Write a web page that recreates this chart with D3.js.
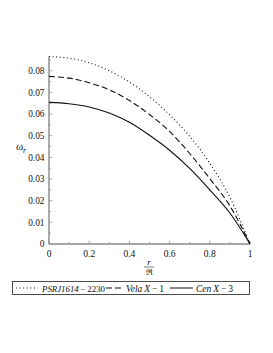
<!DOCTYPE html>
<html>
<head>
<meta charset="utf-8">
<script src="https://cdn.jsdelivr.net/npm/d3@7"></script>
<style>
  body { margin: 0; background: #fff; }
</style>
</head>
<body>
<svg id="chart" width="273" height="353"></svg>
<script>
// radial positions r/R
const radius = [0, 0.1, 0.2, 0.3, 0.4, 0.5, 0.6, 0.7, 0.8, 0.9, 1.0];
// omega_r for each star
const psrValues  = [0.0866, 0.0858, 0.0837, 0.0800, 0.0748, 0.0680, 0.0597, 0.0497, 0.0373, 0.0215, 0];
const velaValues = [0.0774, 0.0766, 0.0745, 0.0712, 0.0663, 0.0598, 0.0520, 0.0418, 0.0302, 0.0176, 0];
const cenValues  = [0.0654, 0.0648, 0.0633, 0.0605, 0.0562, 0.0502, 0.0433, 0.0349, 0.0250, 0.0143, 0];
const xTicks = [0, 0.2, 0.4, 0.6, 0.8, 1];
const yTicks = [0, 0.01, 0.02, 0.03, 0.04, 0.05, 0.06, 0.07, 0.08];

const FONT = '"Liberation Serif", serif';
const svg = d3.select('svg#chart').style('font-family', FONT);

const x = d3.scaleLinear().domain([0, 1]).range([49, 250]);
const y = d3.scaleLinear().domain([0, 0.0866]).range([244, 56.5]);

// minor ticks first
const g = svg.append('g');
g.selectAll('line.ymin')
  .data(d3.range(0, 0.086, 0.005))
  .enter()
  .append('line')
  .attr('x1', x(0)).attr('x2', (d, i) => x(0) + (i % 2 ? 2 : 3.5))
  .attr('y1', d => y(d)).attr('y2', d => y(d))
  .attr('stroke', '#999').attr('stroke-width', 0.8);
g.selectAll('line.xmin')
  .data(d3.range(0, 1.01, 0.1))
  .enter()
  .append('line')
  .attr('x1', d => x(d)).attr('x2', d => x(d))
  .attr('y1', y(0)).attr('y2', (d, i) => y(0) - (i % 2 ? 2 : 3.5))
  .attr('stroke', '#999').attr('stroke-width', 0.8);

// axes lines
svg.append('line')
  .attr('x1', x(0)).attr('x2', x(0)).attr('y1', y(0)).attr('y2', y(0.0866))
  .attr('stroke', '#888').attr('stroke-width', 1.4);
svg.append('line')
  .attr('x1', x(0)).attr('x2', x(1)).attr('y1', y(0)).attr('y2', y(0))
  .attr('stroke', '#888').attr('stroke-width', 1.4);

// tick labels
svg.selectAll('text.ytick')
  .data(yTicks)
  .enter()
  .append('text')
  .attr('x', 44.5)
  .attr('y', d => y(d) + 3.2)
  .attr('text-anchor', 'end')
  .style('font-size', '9.3px')
  .attr('fill', '#111')
  .text(d => d === 0 ? '0' : d.toFixed(2));

svg.selectAll('text.xtick')
  .data(xTicks)
  .enter()
  .append('text')
  .attr('x', d => x(d))
  .attr('y', 256.5)
  .attr('text-anchor', 'middle')
  .style('font-size', '9.5px')
  .attr('fill', '#111')
  .text(d => d === 0 || d === 1 ? String(d) : d.toFixed(1));

// axis titles
svg.append('text')
  .attr('x', 16).attr('y', 150)
  .style('font-size', '11px').attr('fill', '#111')
  .text('ω');
svg.append('text')
  .attr('x', 23).attr('y', 153)
  .style('font-size', '8px').style('font-style', 'italic').attr('fill', '#111')
  .text('r');

svg.append('text')
  .attr('x', 149).attr('y', 265)
  .attr('text-anchor', 'middle')
  .style('font-size', '9px').style('font-style', 'italic')
  .text('r');
svg.append('line')
  .attr('x1', 144).attr('x2', 154).attr('y1', 267).attr('y2', 267)
  .attr('stroke', '#222').attr('stroke-width', 0.6);
svg.append('text')
  .attr('x', 149).attr('y', 274.5)
  .attr('text-anchor', 'middle')
  .style('font-size', '8px')
  .text('ℜ');

// curves
const line = d3.line()
  .x((d, i) => x(radius[i]))
  .y(d => y(d))
  .curve(d3.curveMonotoneX);

const series = [
  { vals: psrValues, dash: '1,2.6' },
  { vals: velaValues, dash: '6,3' },
  { vals: cenValues, dash: null }
];
svg.selectAll('path.curve')
  .data(series)
  .enter()
  .append('path')
  .attr('d', d => line(d.vals))
  .attr('fill', 'none')
  .attr('stroke', '#111')
  .attr('stroke-width', 1.1)
  .attr('stroke-dasharray', d => d.dash);

// legend
svg.append('rect')
  .attr('x', 12.5).attr('y', 281.5).attr('width', 237).attr('height', 13)
  .attr('fill', 'none').attr('stroke', '#222').attr('stroke-width', 0.8);

const legend = [
  { x1: 16, x2: 38, dash: '1,2.6', tx: 42, w: 63, it: 'PSRJ1614', rest: '\u2009−\u20092230' },
  { x1: 106, x2: 123, dash: '6,3', tx: 126, w: 42, it: 'Vela\u2009X', rest: '\u2009−\u20091' },
  { x1: 170, x2: 193, dash: null, tx: 196, w: 51, it: 'Cen\u2009X', rest: '\u2009−\u20093' }
];
legend.forEach(l => {
  svg.append('line')
    .attr('x1', l.x1).attr('x2', l.x2).attr('y1', 288).attr('y2', 288)
    .attr('stroke', '#111').attr('stroke-width', 1)
    .attr('stroke-dasharray', l.dash);
  const a = svg.append('text').attr('x', l.tx).attr('y', 291.5)
    .style('font-size', '9.5px').style('font-style', 'italic').attr('fill', '#111').text(l.it);
  const b = svg.append('text').attr('y', 291.5)
    .style('font-size', '9.5px').attr('fill', '#111').text(l.rest);
  const wa = a.node().getComputedTextLength();
  const wb = b.node().getComputedTextLength();
  const k = Math.min(1, l.w / (wa + wb));
  a.style('font-size', (9.5 * k) + 'px');
  b.style('font-size', (9.5 * k) + 'px').attr('x', l.tx + wa * k);
});
</script>
</body>
</html>
